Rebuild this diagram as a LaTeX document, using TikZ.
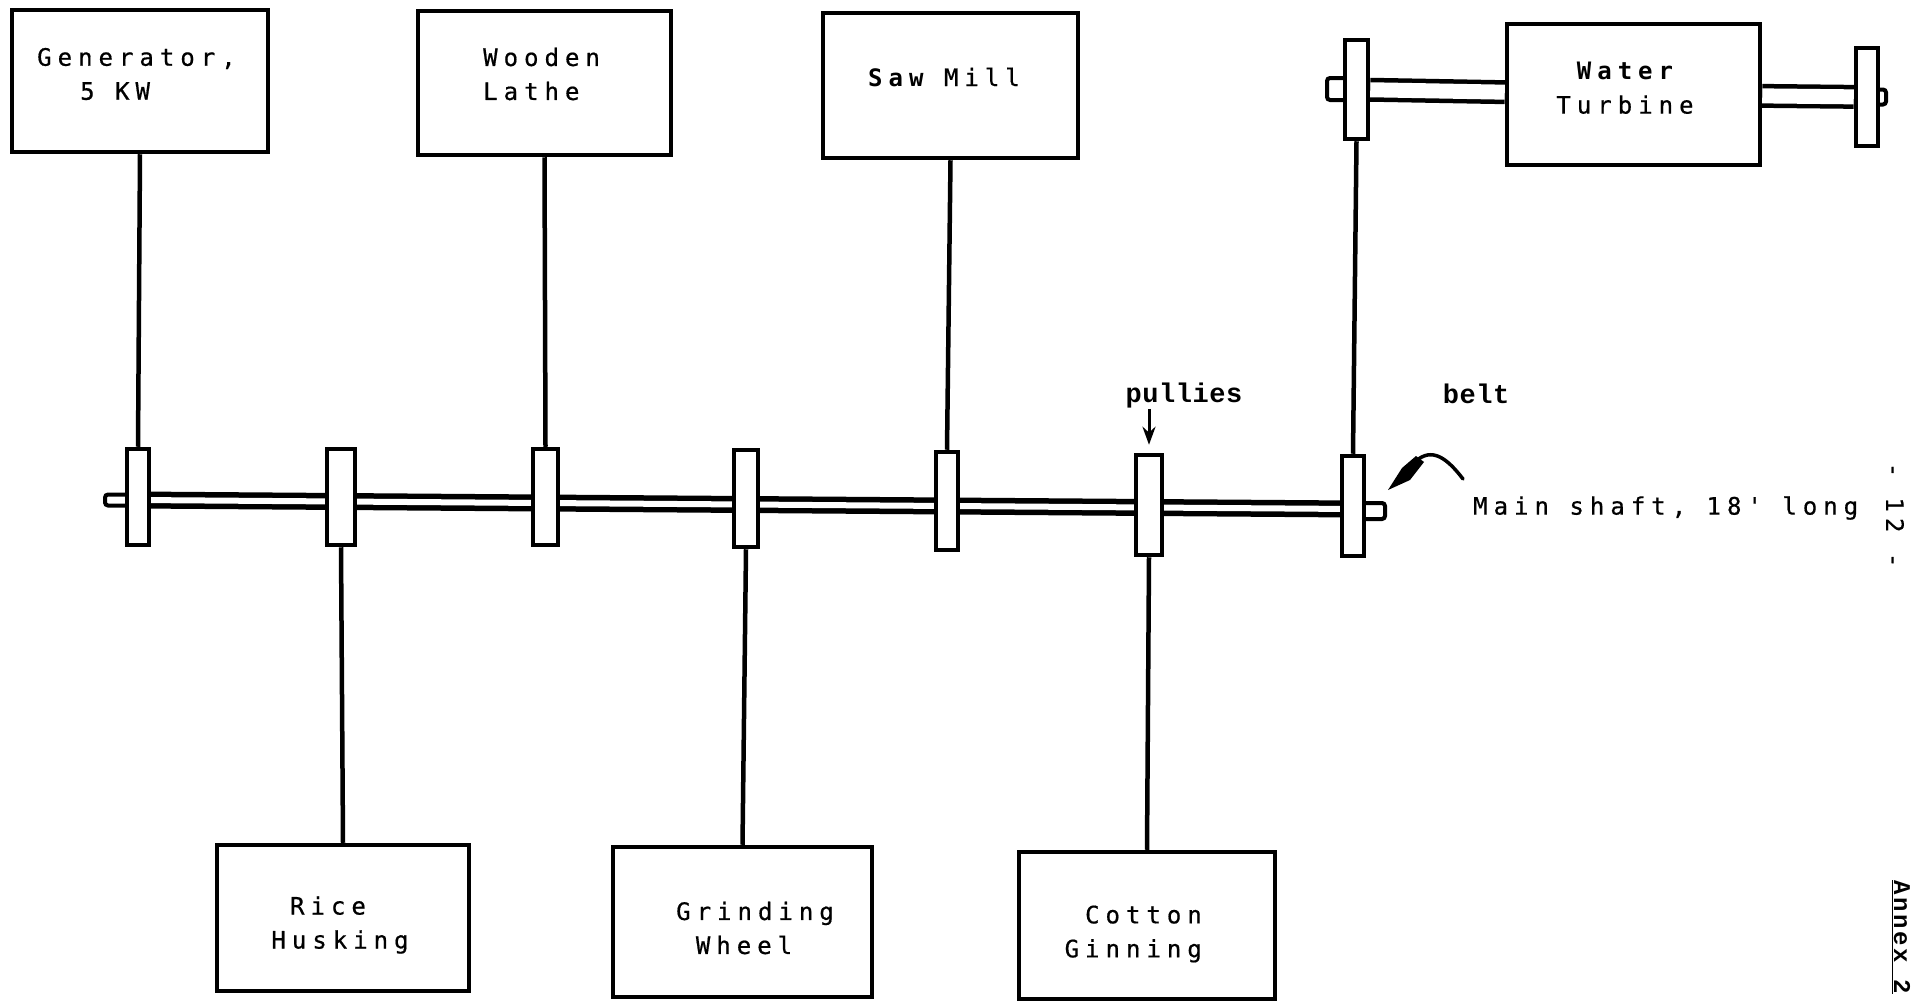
\documentclass[tikz,border=0pt]{standalone}
\usepackage{fontspec}
\usetikzlibrary{calc,arrows.meta}
\newfontfamily\dmfont[LetterSpace=25,FakeBold=0.6]{DejaVu Sans Mono}
\newfontfamily\dmbold[LetterSpace=25]{DejaVu Sans Mono Bold}
\newfontfamily\slabfont[LetterSpace=2]{Liberation Mono Bold}
\newfontfamily\annexfont[LetterSpace=11]{Liberation Mono Bold}
\pgfdeclarelayer{bg}
\pgfsetlayers{bg,main}
\tikzset{
  x=1pt,y=-1pt,
  box/.style={draw=black,fill=white,line width=4.5pt,inner sep=0pt},
  stub/.style={draw=black,fill=white,line width=4pt,inner sep=0pt,rounded corners=3pt},
  belt/.style={draw=black,line width=4.5pt},
  shaftline/.style={draw=black,line width=5.5pt,double=white,double distance=6pt},
  bigshaft/.style={draw=black,line width=4.5pt,double=white,double distance=15pt},
  lab/.style={font=\fontsize{24}{34}\dmfont,inner sep=0pt},
  blab/.style={font=\fontsize{24}{34}\dmbold,inner sep=0pt},
  slab/.style={font=\fontsize{27}{30}\slabfont,inner sep=0pt},
}
\newcommand{\bx}[5]{\node[box,minimum width=#4 pt - #2 pt,minimum height=#5 pt - #3 pt] (#1) at ({(#2+#4)/2},{(#3+#5)/2}) {};}
\begin{document}
\begin{tikzpicture}
\useasboundingbox (0,0) rectangle (1912,1001);
% boxes
\bx{gen}{12}{10}{268}{152}
\bx{lathe}{418}{11}{671}{155}
\bx{saw}{823}{13}{1078}{158}
\bx{turb}{1507}{24}{1760}{165}
\bx{rice}{217}{845}{469}{991}
\bx{grind}{613}{847}{872}{997}
\bx{cotton}{1019}{852}{1275}{999}
% pulleys
\bx{pa}{127}{449}{149}{545}
\bx{pb}{327}{449}{355}{545}
\bx{pc}{533}{449}{558}{545}
\bx{pd}{734}{450}{758}{547}
\bx{pe}{936}{452}{958}{550}
\bx{pf}{1136}{455}{1162}{555}
\bx{pg}{1342}{456}{1364}{556}
\bx{pt}{1345}{40}{1368}{139}
\bx{pr}{1856}{48}{1878}{146}
\begin{pgfonlayer}{bg}
  \node[stub,minimum width=30pt,minimum height=11pt] (sa) at (120,500) {};
  \node[stub,minimum width=30pt,minimum height=16pt] (sg) at (1370,511) {};
  \node[stub,minimum width=30pt,minimum height=22pt] (st) at (1342,89) {};
  \node[stub,minimum width=30pt,minimum height=15pt] (sr) at (1871,97) {};
  \draw[shaftline] ($(pa)+(0,3)$) -- ($(pg)+(0,3)$);
  \draw[bigshaft] (pt) -- (turb);
  \draw[bigshaft] (turb) -- (pr);
\end{pgfonlayer}
% belts
\draw[belt] (gen.south) -- (pa.north);
\draw[belt] (lathe.south) -- (pc.north);
\draw[belt] (saw.south) -- (pe.north);
\draw[belt] (pt.south) -- (pg.north);
\draw[belt] (pb.south) -- (rice.north);
\draw[belt] (pd.south) -- (grind.north);
\draw[belt] (pf.south) -- (cotton.north);
% labels
\node[lab,anchor=west,align=left] (tgen) at (37,74) {Generator,\\\hspace*{43pt}5 KW};
\node[lab,anchor=west,align=left] (tlathe) at (483,74) {Wooden\\Lathe};
\node[lab,anchor=west] (tsaw) at (868,77) {{\dmbold Saw} Mill};
\node[blab,align=center] (tturb) at (1625,88) {Water\\{\dmfont Turbine}};
\node[lab,align=center] (trice) at (340,925) {Rice\hspace*{24pt}\\Husking};
\node[lab,align=center] (tgrind) at (755,928) {Grinding\\Wheel\hspace*{22pt}};
\node[lab,align=right,anchor=east] (tcot) at (1202,934) {Cotton\\Ginning};
\node[lab,anchor=west] (tmain) at (1473,508) {Main shaft, 18' long};
\node[slab] (tpul) at (1184,396) {pullies};
\node[slab] (tbelt) at (1476,394) {belt};
\node[lab,rotate=-90] (tpage) at (1895,515) {- 12 -};
\node[font=\fontsize{24}{30}\annexfont,inner sep=0pt,rotate=-90,anchor=base west] (tannex) at (1894,880) {\underline{Annex 2}};
% arrows
\draw[line width=3pt,-{Stealth[length=18pt,width=13pt]}] (tpul.south -| pf.north) -- ($(pf.north)+(0,-8)$);
\coordinate (ba) at (1463,479);
\coordinate (bb) at (1388,490);
\draw[line width=3.5pt,line cap=round] (ba) .. controls (1447,458) and (1432,447) .. (1416,461);
\fill[black] (1416,456) -- (1424,462) -- (1410,480) -- (bb) -- (1402,468) -- cycle;
\end{tikzpicture}
\end{document}
